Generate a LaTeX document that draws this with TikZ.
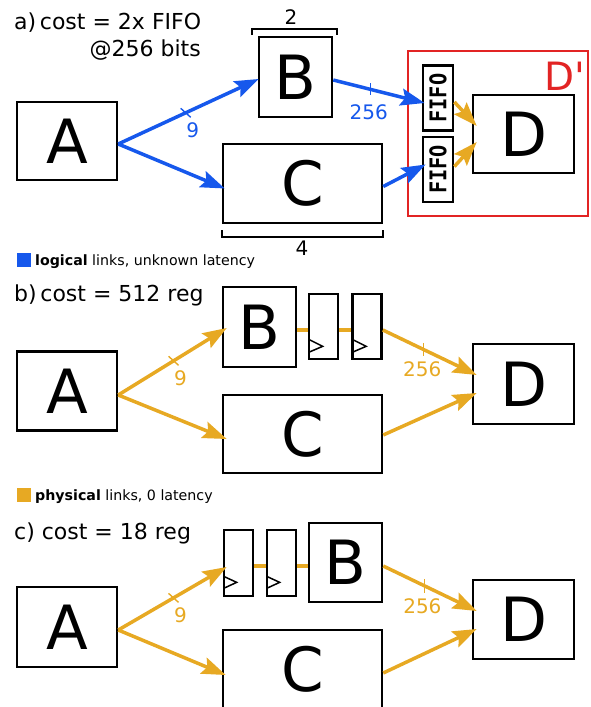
\documentclass[tikz,border=0pt]{standalone}
\usepackage{graphicx}
\usepackage{fontspec}
\setmainfont{DejaVu Sans}
\newfontfamily\fifofont{DejaVu Sans Mono}
\newfontfamily\plainfont{DejaVu Sans}[Ligatures=TeXOff]
\usetikzlibrary{arrows.meta,calc}
\definecolor{lblue}{RGB}{22,88,236}
\definecolor{porange}{RGB}{231,169,35}
\definecolor{dred}{RGB}{226,36,36}
\begin{document}
\begin{tikzpicture}[x=1pt,y=-1pt,
  blk/.style={draw, line width=2.5pt, inner sep=0pt, font=\fontsize{61}{62}\selectfont},
  regbox/.style={draw, line width=2.7pt, inner sep=0pt, minimum width=29pt, minimum height=65pt},
  fifobox/.style={draw, line width=2.8pt, inner sep=0pt, minimum width=30pt, minimum height=65pt},
  fifotext/.style={rotate=90, inner sep=0pt, font=\fifofont\bfseries\fontsize{23}{24}\selectfont},
  larr/.style={draw=lblue, line width=3.5pt, -{Stealth[length=24pt,width=17pt,inset=4pt]}},
  parr/.style={draw=porange, line width=3.5pt, -{Stealth[length=24pt,width=17pt,inset=4pt]}},
  pwire/.style={draw=porange, line width=3.5pt},
  ltick/.style={draw=lblue, line width=1.4pt},
  ptick/.style={draw=porange, line width=1.4pt},
  llbl/.style={text=lblue, font=\fontsize{20}{22}\selectfont, inner sep=0pt},
  plbl/.style={text=porange, font=\fontsize{20}{22}\selectfont, inner sep=0pt},
  title/.style={font=\fontsize{22}{24}\selectfont, inner sep=0pt, anchor=base west},
  legend/.style={font=\fontsize{14.2}{16}\selectfont, inner sep=0pt, anchor=base west},
  clk/.style={draw, line width=1.5pt},
  brk/.style={draw, line width=1.6pt},
  brklbl/.style={font=\fontsize{20}{22}\selectfont, inner sep=0pt},
]
\useasboundingbox (0,0) rectangle (590,707);
\clip (0,0) rectangle (590,707);

% ---------------- panel a ----------------
\node[title] (ta) at (14,29) {a)\,cost = 2x FIFO};
\node[title, anchor=base east] (ta2) at (201,56) {@256 bits};

\node[blk, minimum width=100pt, minimum height=78pt] (Aa) at (67,141) {A};
\node[blk, minimum width=73pt, minimum height=80pt] (Ba) at (295.5,77) {B};
\node[blk, minimum width=159pt, minimum height=79pt] (Ca) at (302.5,183.5) {C};
\node[draw=dred, line width=2.8pt, minimum width=180pt, minimum height=165pt, inner sep=0pt] (Dp) at (498,133.5) {};
\node[text=dred, font=\plainfont\fontsize{39}{40}\selectfont, inner sep=0pt, anchor=base east] (Dpl) at (585,90) {D'};
\node[blk, minimum width=101pt, minimum height=78pt] (Da) at (523.5,134) {D};
\node[fifobox] (F1) at (438,98) {};
\node[fifotext] (F1t) at (F1) {\scalebox{0.88}[1]{FIFO}};
\node[fifobox] (F2) at (438,169.5) {};
\node[fifotext] (F2t) at (F2) {\scalebox{0.88}[1]{FIFO}};

\draw[brk] (252,35) -- (252,29) -- (337,29) -- (337,35);
\node[brklbl] (b2) at (291,17) {2};
\draw[brk] (222,230) -- (222,237) -- (383,237) -- (383,230);
\node[brklbl] (b4) at (302,248) {4};

\draw[larr] ($(Aa.east)+(0,3)$) -- coordinate[pos=0.48] (ta1) ($(Ba.west)+(1,2)$);
\draw[ltick] ($(ta1)+(-5,-4.5)$) -- ($(ta1)+(5,4.5)$);
\node[llbl] (la9) at ($(ta1)+(7,17)$) {9};
\draw[larr] ($(Aa.east)+(0,3)$) -- ($(Ca.west)+(3,5)$);
\draw[larr] ($(Ba.east)+(0,3)$) -- coordinate[pos=0.41] (ta2c) ($(F1.west)+(3,5)$);
\draw[ltick] ($(ta2c)+(0,-6)$) -- ($(ta2c)+(0,6)$);
\node[llbl] (la256) at ($(ta2c)+(-2,23)$) {256};
\draw[larr] ($(Ca.east)+(0,3)$) -- ($(F2.west)+(4,-5)$);
\draw[parr] ($(F1.east)+(0,4)$) -- ($(Da.west)+(5,-8)$);
\draw[parr] ($(F2.east)+(0,-3)$) -- ($(Da.west)+(5,8)$);

\fill[lblue] (17,253) rectangle (31,267);
\node[legend] (lg1) at (35,265) {\textbf{logical} links, unknown latency};

% ---------------- panel b ----------------
\node[title] (tb) at (14,301) {b)\,cost = 512 reg};
\node[blk, minimum width=100pt, minimum height=79pt] (Ab) at (67,391) {A};
\node[blk, minimum width=73pt, minimum height=80pt] (Bb) at (259.5,327) {B};
\node[regbox] (R1b) at (323.5,326.5) {};
\node[regbox] (R2b) at (367,326.5) {};
\node[blk, minimum width=159pt, minimum height=78pt] (Cb) at (302.5,434) {C};
\node[blk, minimum width=101pt, minimum height=80pt] (Db) at (523.5,384) {D};
\draw[clk] ($(R1b.south west)+(1,-21)$) -- ($(R1b.south west)+(15,-14)$) -- ($(R1b.south west)+(1,-8)$);
\draw[clk] ($(R2b.south west)+(1,-21)$) -- ($(R2b.south west)+(15,-14)$) -- ($(R2b.south west)+(1,-8)$);
\draw[pwire] ($(Bb.east)+(0,3)$) -- ($(R1b.west)+(0,3.5)$);
\draw[pwire] ($(R1b.east)+(0,3.5)$) -- ($(R2b.west)+(0,3.5)$);

\draw[parr] ($(Ab.east)+(0,4)$) -- coordinate[pos=0.51] (tb1) ($(Bb.west)+(5,1)$);
\draw[ptick] ($(tb1)+(-5,-4.5)$) -- ($(tb1)+(5,4.5)$);
\node[plbl] (lb9) at ($(tb1)+(7,17)$) {9};
\draw[parr] ($(Ab.east)+(0,4)$) -- ($(Cb.west)+(5,5)$);
\draw[parr] ($(R2b.east)+(0,3.5)$) -- coordinate[pos=0.43] (tb2) ($(Db.west)+(5,-9)$);
\draw[ptick] ($(tb2)+(0,-6.5)$) -- ($(tb2)+(0,6.5)$);
\node[plbl] (lb256) at ($(tb2)+(-1,20)$) {256};
\draw[parr] ($(Cb.east)+(0,1)$) -- ($(Db.west)+(5,9)$);

\fill[porange] (17,488) rectangle (31,502);
\node[legend] (lg2) at (35,500) {\textbf{physical} links, 0 latency};

% ---------------- panel c ----------------
\node[title] (tc) at (14,539) {c) cost = 18 reg};
\node[blk, minimum width=100pt, minimum height=80pt] (Ac) at (67,627) {A};
\node[regbox, minimum height=66pt] (R1c) at (238.5,563) {};
\node[regbox, minimum height=66pt] (R2c) at (281.5,563) {};
\node[blk, minimum width=73pt, minimum height=79pt] (Bc) at (345.5,562.5) {B};
\node[blk, minimum width=159pt, minimum height=79pt] (Cc) at (302.5,669.5) {C};
\node[blk, minimum width=101pt, minimum height=79pt] (Dc) at (523.5,619.5) {D};
\draw[clk] ($(R1c.south west)+(1,-21)$) -- ($(R1c.south west)+(14,-15)$) -- ($(R1c.south west)+(1,-9)$);
\draw[clk] ($(R2c.south west)+(1,-21)$) -- ($(R2c.south west)+(14,-15)$) -- ($(R2c.south west)+(1,-9)$);
\draw[pwire] ($(R1c.east)+(0,3)$) -- ($(R2c.west)+(0,3)$);
\draw[pwire] ($(R2c.east)+(0,3)$) -- ($(Bc.west)+(0,3.5)$);

\draw[parr] ($(Ac.east)+(0,3)$) -- coordinate[pos=0.51] (tc1) ($(R1c.west)+(4,4)$);
\draw[ptick] ($(tc1)+(-5,-4.5)$) -- ($(tc1)+(5,4.5)$);
\node[plbl] (lc9) at ($(tc1)+(7,17)$) {9};
\draw[parr] ($(Ac.east)+(0,3)$) -- ($(Cc.west)+(4,5.5)$);
\draw[parr] ($(Bc.east)+(0,3.5)$) -- coordinate[pos=0.44] (tc2) ($(Dc.west)+(5,-8.5)$);
\draw[ptick] ($(tc2)+(0,-7)$) -- ($(tc2)+(0,7)$);
\node[plbl] (lc256) at ($(tc2)+(-2,20)$) {256};
\draw[parr] ($(Cc.east)+(0,3.5)$) -- ($(Dc.west)+(5,9.5)$);
\end{tikzpicture}
\end{document}
